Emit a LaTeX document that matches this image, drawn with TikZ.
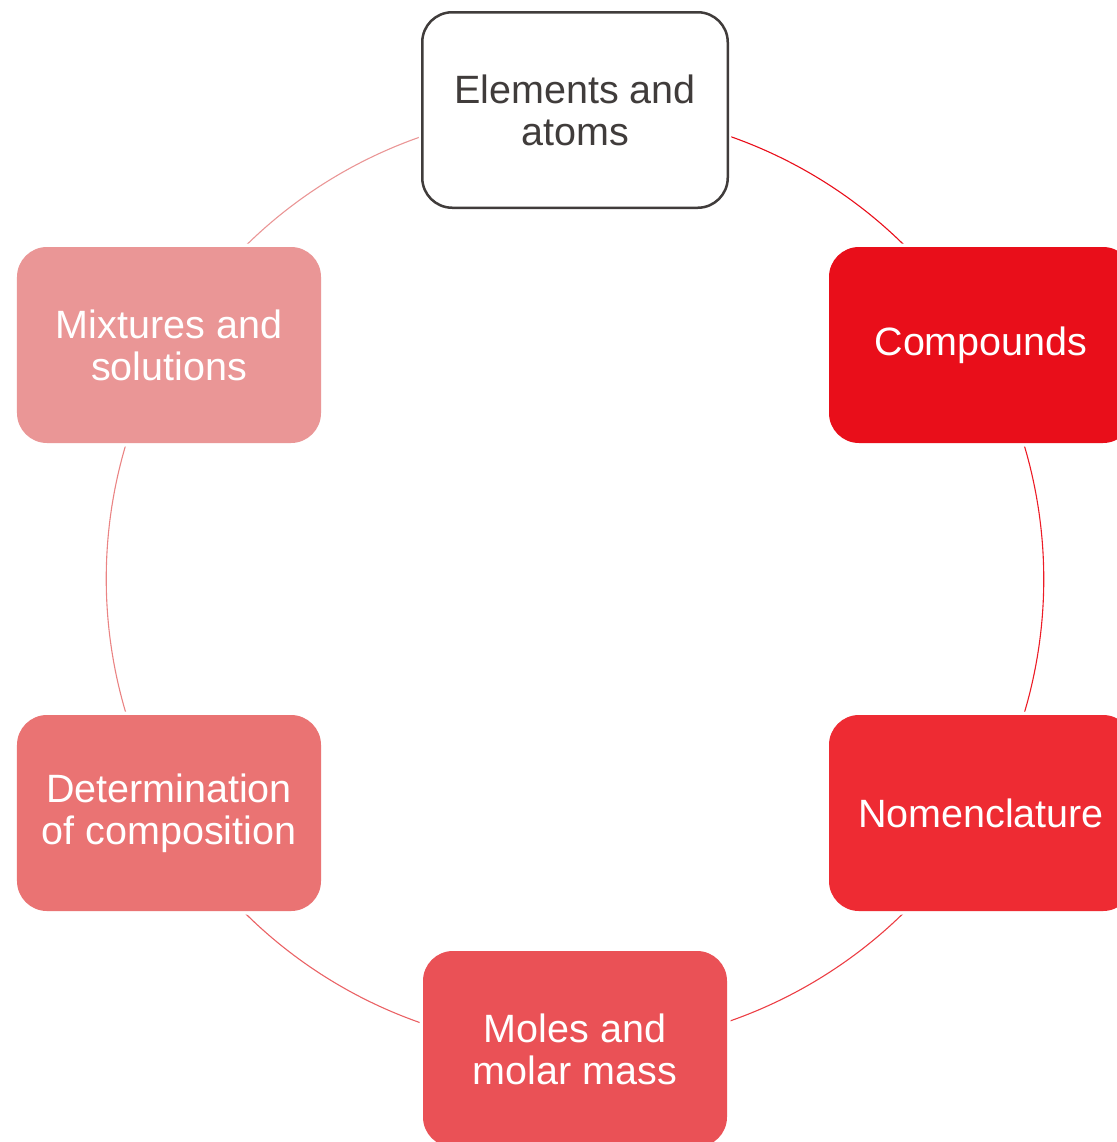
\documentclass[tikz,border=0pt]{standalone}
\usepackage{fontspec}
\setmainfont{Liberation Sans}
\usetikzlibrary{backgrounds}
\definecolor{rimgray}{RGB}{64,60,59}
\definecolor{cA}{RGB}{233,14,26}
\definecolor{cB}{RGB}{238,43,51}
\definecolor{cC}{RGB}{234,81,86}
\definecolor{cD}{RGB}{234,115,115}
\definecolor{cE}{RGB}{234,150,150}
\begin{document}
\begin{tikzpicture}[x=1bp,y=-1bp,
  topic/.style={rounded corners=30bp, minimum width=304bp, minimum height=196bp,
    inner sep=0pt, align=center, text=white,
    font=\fontsize{39.5bp}{42bp}\selectfont,
    preaction={draw=white, line width=7bp}},
  ring/.style={line width=1.1bp}]
\useasboundingbox (0,0) rectangle (1117,1142);

% topic boxes around the cycle
\node[topic, fill=white, draw=rimgray, line width=2.5bp, text=rimgray,
      minimum width=305.5bp, minimum height=195.5bp] (elem) at (575,110) {Elements and\\atoms};
\node[topic, fill=cA] (comp) at (981,345)  {Compounds};
\node[topic, fill=cB] (nome) at (981,813)  {Nomenclature};
\node[topic, fill=cC] (mole) at (575,1049) {Moles and\\molar mass};
\node[topic, fill=cD] (dete) at (169,813)  {Determination\\of composition};
\node[topic, fill=cE] (mixt) at (169,345)  {Mixtures and\\solutions};

% circular connectors, each arc running from one box to the next
\begin{scope}[on background layer]
  \draw[ring, draw=cA]          (elem.center) arc[start angle=-90, end angle=-30, radius=468.5];
  \draw[ring, draw=cA!50!cB]    (comp.center) arc[start angle=-30, end angle=30,  radius=468.5];
  \draw[ring, draw=cB!50!cC]    (nome.center) arc[start angle=30,  end angle=90,  radius=468.5];
  \draw[ring, draw=cC!50!cD]    (mole.center) arc[start angle=90,  end angle=150, radius=468.5];
  \draw[ring, draw=cD!50!cE]    (dete.center) arc[start angle=150, end angle=210, radius=468.5];
  \draw[ring, draw=cE]          (mixt.center) arc[start angle=210, end angle=270, radius=468.5];
\end{scope}
\end{tikzpicture}
\end{document}
